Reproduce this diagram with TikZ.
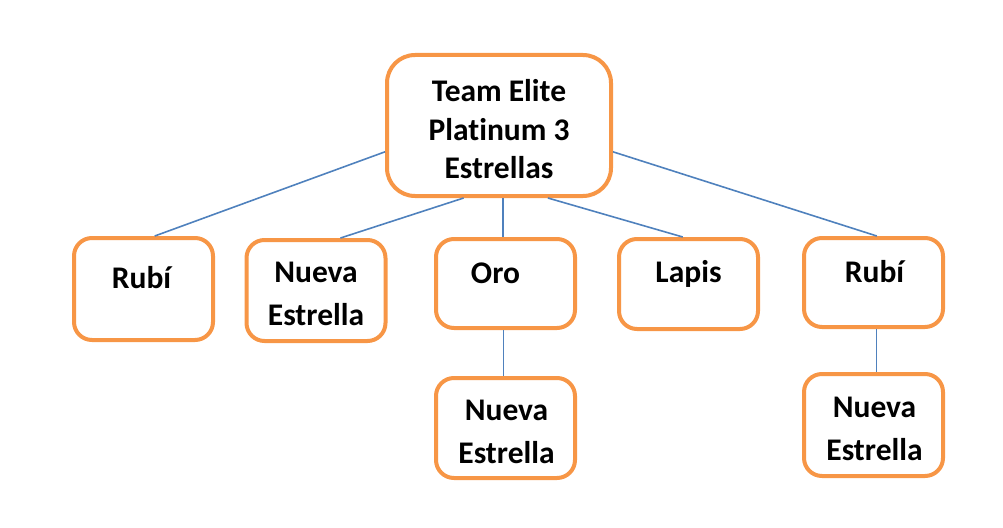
\documentclass[tikz,border=0pt]{standalone}
\usepackage{fontspec}
\setmainfont[Ligatures=NoCommon]{Carlito}
\usepackage{tikz}
\usetikzlibrary{calc}
\usepackage{xcolor}
\definecolor{boxorange}{HTML}{F79646}
\definecolor{linkblue}{HTML}{4F81BD}

\begin{document}
\begin{tikzpicture}[x=1pt,y=-1pt,
  box/.style={draw=boxorange, line width=4pt, fill=white, rounded corners=18pt, minimum width=139pt, minimum height=#1, inner sep=0pt},
  txt/.style={font=\fontsize{31.5}{43}\selectfont\bfseries, align=center, inner sep=0pt},
  link/.style={draw=linkblue, line width=1.6pt}]
\useasboundingbox (0,0) rectangle (1003,527);
\node [box=141pt, minimum width=224pt, rounded corners=28pt] (top) at (499,125.5) {};
\node [box=102pt] (rubiA) at (143.5,289) {};
\node [box=101pt] (nuevaA) at (316,290.5) {};
\node [box=89pt] (oro) at (505.5,283.5) {};
\node [box=90pt] (lapis) at (688.5,284) {};
\node [box=89pt] (rubiB) at (873.5,282.5) {};
\node [box=100pt] (nuevaB) at (505.5,428) {};
\node [box=102pt] (nuevaC) at (873.5,425) {};
% labels
\node [txt, font=\fontsize{31.5}{38.5}\selectfont\bfseries] (top-t) at ($(top)+(0,4)$) {Team Elite\\Platinum 3\\Estrellas};
\node [txt] (rubiA-t) at ($(rubiA)+(-2,-11)$) {Rubí};
\node [txt] (nuevaA-t) at ($(nuevaA)+(0,3.5)$) {Nueva\\Estrella};
\node [txt] (oro-t) at ($(oro)+(-10,-10.5)$) {Oro};
\node [txt] (lapis-t) at ($(lapis)+(0,-10)$) {Lapis};
\node [txt] (rubiB-t) at ($(rubiB)+(1,-10.5)$) {Rubí};
\node [txt] (nuevaB-t) at ($(nuevaB)+(1,4)$) {Nueva\\Estrella};
\node [txt] (nuevaC-t) at ($(nuevaC)+(1,3.5)$) {Nueva\\Estrella};
% links
\coordinate (mid) at ($(top.south)+(4,0)$);
\draw [link] (top.193) -- (rubiA.78);
\draw [link] (top.244) -- (nuevaA.65);
\draw [link] (mid) -- (mid |- oro.north);
\draw [link] (top.304) -- (lapis.97);
\draw [link] (top.347) -- (rubiB.86);
\draw [link] ($(oro.south)+(-2,0)$) -- ($(nuevaB.north)+(-2,0)$);
\draw [link] ($(rubiB.south)+(3,0)$) -- ($(nuevaC.north)+(3,0)$);
\end{tikzpicture}
\end{document}
